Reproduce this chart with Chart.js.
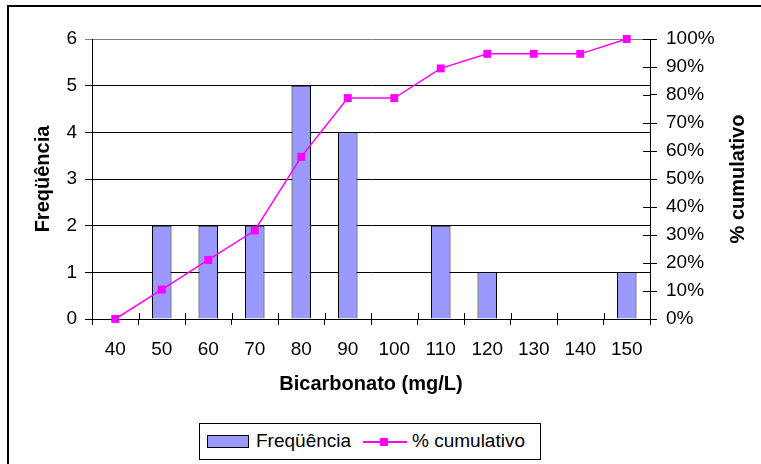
<!DOCTYPE html>
<html>
<head>
<meta charset="utf-8">
<script src="https://cdn.jsdelivr.net/npm/chart.js@4.4.1/dist/chart.umd.min.js"></script>
<style>
  html, body { margin: 0; padding: 0; background: #fff; overflow: hidden; }
  #wrap { position: relative; width: 761px; height: 464px; overflow: hidden; }
  #frame { position: absolute; left: 7px; top: 5px; width: 800px; height: 600px; border: 2px solid #000; }
  #chart { position: absolute; left: 0; top: 0; }
  #legend {
    position: absolute; left: 199px; top: 423px; width: 340px; height: 35px;
    border: 1px solid #000; background: #fff;
    font: 19px "Liberation Sans", Arial, sans-serif; color: #000;
  }
  #legend .swatch { position: absolute; left: 7px; top: 11px; width: 40px; height: 11px; background: #9999FF; border: 1px solid #000; }
  #legend .t1 { position: absolute; left: 56px; top: 6px; }
  #legend .ln { position: absolute; left: 163px; top: 17px; width: 44px; height: 2px; background: #FF00FF; }
  #legend .mk { position: absolute; left: 180px; top: 14px; width: 8px; height: 8px; background: #FF00FF; }
  #legend .t2 { position: absolute; left: 212px; top: 6px; }
</style>
</head>
<body>
<div id="wrap">
  <div id="frame"></div>
  <canvas id="chart" width="761" height="464"></canvas>
  <div id="legend">
    <div class="swatch"></div><div class="t1">Freqüência</div>
    <div class="ln"></div><div class="mk"></div><div class="t2">% cumulativo</div>
  </div>
</div>
<script>
  // Data
  const bins = ['40', '50', '60', '70', '80', '90', '100', '110', '120', '130', '140', '150'];
  const frequency = [0, 2, 2, 2, 5, 4, 0, 2, 1, 0, 0, 1];
  const cumulativePct = [0, 10.5, 21.1, 31.6, 57.9, 78.9, 78.9, 89.5, 94.7, 94.7, 94.7, 100];

  Chart.defaults.font.family = '"Liberation Sans", Arial, sans-serif';
  Chart.defaults.color = '#000';

  // Excel-style ticks crossing the axis, plus the right title reading upwards
  const excelExtras = {
    id: 'excelExtras',
    afterDraw(chart) {
      const {ctx, chartArea, scales: {x, y1}} = chart;
      ctx.save();
      ctx.strokeStyle = '#000';
      ctx.lineWidth = 1;
      ctx.beginPath();
      for (let i = 0; i <= bins.length; i++) {
        const px = Math.round(x.getPixelForValue(i - 0.5)) + 0.5;
        ctx.moveTo(px, chartArea.bottom - 6);
        ctx.lineTo(px, chartArea.bottom);
      }
      y1.ticks.forEach(t => {
        const py = Math.round(y1.getPixelForValue(t.value)) + 0.5;
        ctx.moveTo(chartArea.right - 7, py);
        ctx.lineTo(chartArea.right, py);
      });
      ctx.stroke();

      ctx.translate(738, (chartArea.top + chartArea.bottom) / 2);
      ctx.rotate(-Math.PI / 2);
      ctx.font = 'bold 20px "Liberation Sans", Arial, sans-serif';
      ctx.fillStyle = '#000';
      ctx.textAlign = 'center';
      ctx.textBaseline = 'middle';
      ctx.fillText('% cumulativo', 0, 0);
      ctx.restore();
    }
  };

  new Chart(document.getElementById('chart'), {
    type: 'bar',
    data: {
      labels: bins,
      datasets: [{
        type: 'line',
        label: '% cumulativo',
        data: cumulativePct,
        yAxisID: 'y1',
        borderColor: '#FF00FF',
        borderWidth: 1.5,
        pointStyle: 'rect',
        pointRadius: 5.6,
        pointBackgroundColor: '#FF00FF',
        pointBorderColor: '#FF00FF',
        pointBorderWidth: 0,
        tension: 0,
        clip: false,
        order: 0
      }, {
        label: 'Freqüência',
        data: frequency,
        yAxisID: 'y',
        backgroundColor: '#9999FF',
        borderColor: '#000',
        borderWidth: 1,
        barPercentage: 0.42,
        categoryPercentage: 1.0,
        order: 1
      }]
    },
    options: {
      responsive: false,
      animation: false,
      layout: { padding: { top: 39, left: 0, right: 0, bottom: 0 } },
      plugins: {
        legend: { display: false },
        tooltip: { enabled: false }
      },
      scales: {
        x: {
          offset: true,
          grid: { offset: true, drawOnChartArea: false, tickLength: 6, color: '#000' },
          border: { color: '#000', width: 1 },
          ticks: { font: { size: 19 }, color: '#000', padding: 13, maxRotation: 0 },
          title: {
            display: true,
            text: 'Bicarbonato (mg/L)',
            font: { size: 20, weight: 'bold' },
            color: '#000',
            padding: { top: 0, bottom: 68 }
          },
          afterFit: scale => { scale.height = 145; }
        },
        y: {
          position: 'left',
          min: 0,
          max: 6,
          ticks: { stepSize: 1, font: { size: 19 }, color: '#000', padding: 8 },
          grid: {
            tickLength: 7,
            color: c => (c.tick && c.tick.value === 6 ? '#808080' : '#000')
          },
          border: { color: '#000', width: 1 },
          title: {
            display: true,
            text: 'Freqüência',
            font: { size: 20, weight: 'bold' },
            color: '#000',
            padding: { top: 31, bottom: 0 }
          },
          afterFit: scale => { scale.width = 92; }
        },
        y1: {
          position: 'right',
          min: 0,
          max: 100,
          ticks: {
            stepSize: 10,
            font: { size: 19 },
            color: '#000',
            padding: 9,
            callback: v => v + '%'
          },
          grid: { drawOnChartArea: false, tickLength: 7, color: '#000' },
          border: { color: '#000', width: 1 },
          afterFit: scale => { scale.width = 111; }
        }
      }
    },
    plugins: [excelExtras]
  });
</script>
</body>
</html>
